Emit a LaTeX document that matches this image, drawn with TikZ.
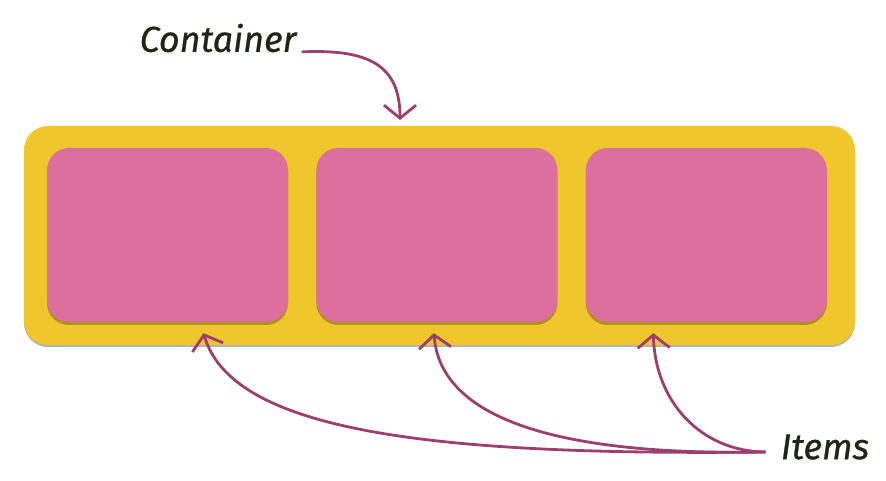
\documentclass[tikz,border=0pt]{standalone}
\usepackage{fontspec}
\setmainfont{Fira Sans}[FakeBold=0.7]
\usetikzlibrary{arrows.meta, positioning, shadows}
\definecolor{contfill}{HTML}{EFC62B}
\definecolor{itemfill}{HTML}{DC6F9D}
\definecolor{arrdraw}{HTML}{9C3F70}
\definecolor{labtext}{HTML}{1C2812}
\tikzset{
  cont/.style={rectangle, rounded corners=24pt, fill=contfill, minimum width=831pt, minimum height=219pt, inner sep=0pt,
    drop shadow={shadow xshift=0pt, shadow yshift=-2pt, opacity=0.3, fill=black}},
  itm/.style={rectangle, rounded corners=22pt, fill=itemfill, minimum width=241pt, minimum height=174pt, inner sep=0pt,
    drop shadow={shadow xshift=0pt, shadow yshift=-3pt, opacity=0.35, fill=black!70!brown}},
  lab/.style={font=\fontsize{36}{40}\selectfont\itshape, text=labtext, inner sep=0pt},
  arr/.style={-{Straight Barb[length=13pt, width=32pt]}, line width=2.8pt, draw=arrdraw, line cap=round},
}
\begin{document}
\begin{tikzpicture}[x=1pt, y=1pt]
  \useasboundingbox (0,0) rectangle (886,481);
  \node[cont] (box) at (439.5,245.5) {};
  \node[itm] (item1) at (167.5,246) {};
  \node[itm, right=28pt of item1] (item2) {};
  \node[itm, right=28pt of item2] (item3) {};
  \node[lab] (ctext) at (218,443) {Container};
  \node[lab] (itext) at (825,34) {Items};
  % the container
  \coordinate (ctip) at (400,361);
  \draw[arr] ([xshift=6pt]ctext.base east) .. controls (370,432) and (400,415) .. (ctip);
  % the items
  \draw[arr] ([xshift=-16pt,yshift=-5pt]itext.west) .. controls (420,25) and (232,52) .. ([xshift=36pt,yshift=-11pt]item1.south);
  \draw[arr] ([xshift=-16pt,yshift=-5pt]itext.west) .. controls (610,26) and (442,45) .. ([xshift=-3pt,yshift=-11pt]item2.south);
  \draw[arr] ([xshift=-16pt,yshift=-5pt]itext.west) .. controls (700,30) and (655,80) .. ([xshift=-53pt,yshift=-11pt]item3.south);
\end{tikzpicture}
\end{document}
